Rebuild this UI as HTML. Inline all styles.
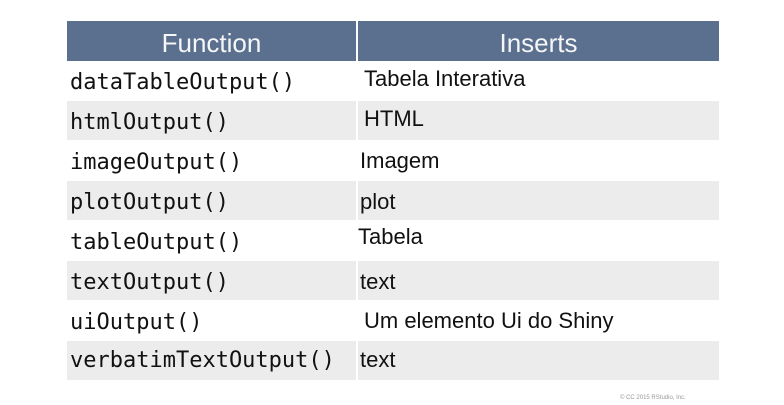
<!DOCTYPE html>
<html><head><style>
body{margin:0;width:784px;height:405px;background:#fff;position:relative;overflow:hidden;font-family:"Liberation Sans",sans-serif}
.a{position:absolute}
.h{background:#5b6f8e;top:21px;height:40px;color:#f4f6f8;font-size:26px;line-height:44px;text-align:center}
.g{background:#ececec}
.m{font-family:"DejaVu Sans Mono","Liberation Mono",monospace;font-size:22px;color:#111;left:70px;line-height:24px}
.t{font-size:22px;color:#111;line-height:24px}
</style></head><body>
<div class="a h" style="left:67px;width:289px">Function</div>
<div class="a h" style="left:358px;width:361px">Inserts</div>
<div class="a g" style="left:67px;top:101px;width:289px;height:39px"></div>
<div class="a g" style="left:358px;top:101px;width:361px;height:39px"></div>
<div class="a g" style="left:67px;top:181px;width:289px;height:39px"></div>
<div class="a g" style="left:358px;top:181px;width:361px;height:39px"></div>
<div class="a g" style="left:67px;top:261px;width:289px;height:39px"></div>
<div class="a g" style="left:358px;top:261px;width:361px;height:39px"></div>
<div class="a g" style="left:67px;top:341px;width:289px;height:39px"></div>
<div class="a g" style="left:358px;top:341px;width:361px;height:39px"></div>
<div class="a m" style="top:71px">dataTableOutput()</div>
<div class="a m" style="top:111px">htmlOutput()</div>
<div class="a m" style="top:151px">imageOutput()</div>
<div class="a m" style="top:191px">plotOutput()</div>
<div class="a m" style="top:231px">tableOutput()</div>
<div class="a m" style="top:271px">textOutput()</div>
<div class="a m" style="top:311px">uiOutput()</div>
<div class="a m" style="top:349px">verbatimTextOutput()</div>
<div class="a t" style="left:364px;top:67px">Tabela Interativa</div>
<div class="a t" style="left:364px;top:107px">HTML</div>
<div class="a t" style="left:360px;top:149px">Imagem</div>
<div class="a t" style="left:360px;top:190px">plot</div>
<div class="a t" style="left:358px;top:225px">Tabela</div>
<div class="a t" style="left:360px;top:270px">text</div>
<div class="a t" style="left:364px;top:309px">Um elemento Ui do Shiny</div>
<div class="a t" style="left:360px;top:348px">text</div>
<div class="a" style="left:620px;top:395px;font-size:6px;color:#999">© CC 2015 RStudio, Inc.</div>
</body></html>
